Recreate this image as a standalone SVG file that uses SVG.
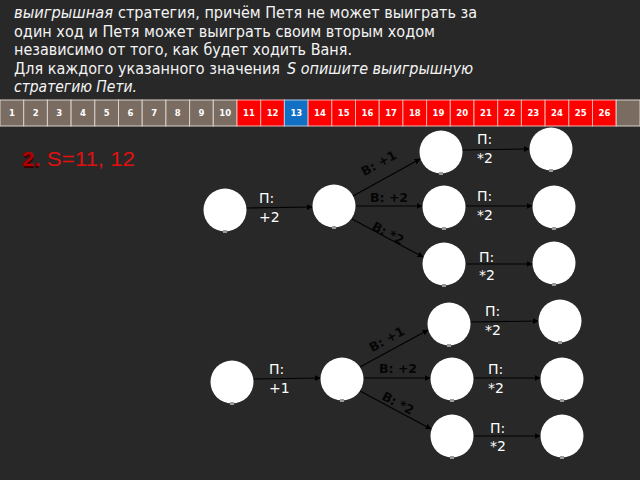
<svg xmlns="http://www.w3.org/2000/svg" width="640" height="480" viewBox="0 0 640 480">
<defs>
<style>
.bg{fill:#282828}
.t{font-family:"DejaVu Sans",sans-serif;font-size:15.8px;fill:#f4f4f4}
.it{font-style:italic}
.cg{fill:#7b6c61;stroke:#d8d2cc;stroke-width:1}
.cr{fill:#ff0000;stroke:#f2b0b0;stroke-width:1}
.cb{fill:#1170c4;stroke:#b0c8e8;stroke-width:1}
.num{font-family:"DejaVu Sans",sans-serif;font-size:8.5px;font-weight:bold;fill:#ffffff;text-anchor:middle}
.node{fill:#ffffff}
.tick{fill:#9a9a9a}
.edge{stroke:#000000;stroke-width:1.1;fill:none;marker-end:url(#ah)}
.p{font-family:"DejaVu Sans",sans-serif;font-size:14px;fill:#ffffff}
.v{font-family:"DejaVu Sans",sans-serif;font-size:12.5px;font-weight:bold;fill:#050505}
</style>
<marker id="ah" viewBox="0 0 10 10" refX="9" refY="5" markerWidth="6" markerHeight="6" markerUnits="userSpaceOnUse" orient="auto">
<path d="M0,0 L10,5 L0,10 z" fill="#000000"/>
</marker>
</defs>
<rect class="bg" x="0" y="0" width="640" height="480"/>

<g id="task-text">
<text class="t it" x="14" y="18" textLength="99" lengthAdjust="spacingAndGlyphs">выигрышная</text>
<text class="t" x="118" y="18" textLength="359" lengthAdjust="spacingAndGlyphs">стратегия, причём Петя не может выиграть за</text>
<text class="t" x="14" y="37" textLength="421" lengthAdjust="spacingAndGlyphs">один ход и Петя может выиграть своим вторым ходом</text>
<text class="t" x="14" y="55" textLength="338" lengthAdjust="spacingAndGlyphs">независимо от того, как будет ходить Ваня.</text>
<text class="t" x="14" y="74" textLength="266" lengthAdjust="spacingAndGlyphs">Для каждого указанного значения</text>
<text class="t it" x="287" y="74" textLength="186" lengthAdjust="spacingAndGlyphs">S опишите выигрышную</text>
<text class="t it" x="14" y="92" textLength="123" lengthAdjust="spacingAndGlyphs">стратегию Пети.</text>
</g>

<g id="number-row">
<rect class="cg" x="0" y="100" width="23.7" height="26"/><text class="num" x="11.9" y="116">1</text>
<rect class="cg" x="23.7" y="100" width="23.7" height="26"/><text class="num" x="35.6" y="116">2</text>
<rect class="cg" x="47.4" y="100" width="23.7" height="26"/><text class="num" x="59.3" y="116">3</text>
<rect class="cg" x="71.1" y="100" width="23.7" height="26"/><text class="num" x="83" y="116">4</text>
<rect class="cg" x="94.8" y="100" width="23.7" height="26"/><text class="num" x="106.7" y="116">5</text>
<rect class="cg" x="118.5" y="100" width="23.7" height="26"/><text class="num" x="130.4" y="116">6</text>
<rect class="cg" x="142.2" y="100" width="23.7" height="26"/><text class="num" x="154.1" y="116">7</text>
<rect class="cg" x="165.9" y="100" width="23.7" height="26"/><text class="num" x="177.8" y="116">8</text>
<rect class="cg" x="189.6" y="100" width="23.7" height="26"/><text class="num" x="201.5" y="116">9</text>
<rect class="cg" x="213.3" y="100" width="23.7" height="26"/><text class="num" x="225.2" y="116">10</text>
<rect class="cr" x="237" y="100" width="23.7" height="26"/><text class="num" x="248.9" y="116">11</text>
<rect class="cr" x="260.7" y="100" width="23.7" height="26"/><text class="num" x="272.6" y="116">12</text>
<rect class="cb" x="284.4" y="100" width="23.7" height="26"/><text class="num" x="296.3" y="116">13</text>
<rect class="cr" x="308.1" y="100" width="23.7" height="26"/><text class="num" x="320" y="116">14</text>
<rect class="cr" x="331.8" y="100" width="23.7" height="26"/><text class="num" x="343.7" y="116">15</text>
<rect class="cr" x="355.5" y="100" width="23.7" height="26"/><text class="num" x="367.4" y="116">16</text>
<rect class="cr" x="379.2" y="100" width="23.7" height="26"/><text class="num" x="391.1" y="116">17</text>
<rect class="cr" x="402.9" y="100" width="23.7" height="26"/><text class="num" x="414.8" y="116">18</text>
<rect class="cr" x="426.6" y="100" width="23.7" height="26"/><text class="num" x="438.5" y="116">19</text>
<rect class="cr" x="450.3" y="100" width="23.7" height="26"/><text class="num" x="462.2" y="116">20</text>
<rect class="cr" x="474" y="100" width="23.7" height="26"/><text class="num" x="485.9" y="116">21</text>
<rect class="cr" x="497.7" y="100" width="23.7" height="26"/><text class="num" x="509.6" y="116">22</text>
<rect class="cr" x="521.4" y="100" width="23.7" height="26"/><text class="num" x="533.3" y="116">23</text>
<rect class="cr" x="545.1" y="100" width="23.7" height="26"/><text class="num" x="557" y="116">24</text>
<rect class="cr" x="568.8" y="100" width="23.7" height="26"/><text class="num" x="580.7" y="116">25</text>
<rect class="cr" x="592.5" y="100" width="23.7" height="26"/><text class="num" x="604.4" y="116">26</text>
<rect class="cg" x="616.2" y="100" width="23.8" height="26"/>
</g>

<g id="title">
<text x="23.5" y="167.5" font-family="'Liberation Sans',Arial,sans-serif" font-size="20" font-weight="bold" fill="#3a0000">2.</text>
<text x="22" y="166" font-family="'Liberation Sans',Arial,sans-serif" font-size="20" textLength="113" lengthAdjust="spacingAndGlyphs"><tspan font-weight="bold" fill="#b00000">2.</tspan><tspan fill="#e01010"> S=11, 12</tspan></text>
</g>

<g id="connectors">
<line class="edge" x1="246" y1="208" x2="312" y2="207"/>
<line class="edge" x1="353" y1="196" x2="420" y2="159"/>
<line class="edge" x1="356" y1="206" x2="422" y2="206"/>
<line class="edge" x1="352" y1="219" x2="423" y2="257"/>
<line class="edge" x1="462" y1="150" x2="529" y2="149"/>
<line class="edge" x1="466" y1="206" x2="532" y2="206"/>
<line class="edge" x1="466" y1="264" x2="532" y2="264"/>
<line class="edge" x1="254" y1="379" x2="320" y2="378"/>
<line class="edge" x1="360" y1="367" x2="428" y2="330"/>
<line class="edge" x1="364" y1="378" x2="430" y2="378"/>
<line class="edge" x1="360" y1="391" x2="431" y2="429"/>
<line class="edge" x1="471" y1="322" x2="538" y2="321"/>
<line class="edge" x1="474" y1="378" x2="540" y2="378"/>
<line class="edge" x1="474" y1="436" x2="540" y2="436"/>

<text class="p" x="259" y="203">П:</text><text class="p" x="259" y="222">+2</text>
<text class="v" transform="translate(381,167) rotate(-29)" text-anchor="middle">В: +1</text>
<text class="v" x="370" y="202">В: +2</text>
<text class="v" transform="translate(386,237) rotate(28)" text-anchor="middle">В: *2</text>
<text class="p" x="477" y="144">П:</text><text class="p" x="477" y="163">*2</text>
<text class="p" x="477" y="201">П:</text><text class="p" x="477" y="220">*2</text>
<text class="p" x="479" y="262">П:</text><text class="p" x="479" y="280">*2</text>

<text class="p" x="269" y="374">П:</text><text class="p" x="269" y="393">+1</text>
<text class="v" transform="translate(389,343) rotate(-29)" text-anchor="middle">В: +1</text>
<text class="v" x="379" y="373">В: +2</text>
<text class="v" transform="translate(396,407) rotate(28)" text-anchor="middle">В: *2</text>
<text class="p" x="485" y="316">П:</text><text class="p" x="485" y="335">*2</text>
<text class="p" x="488" y="374">П:</text><text class="p" x="488" y="393">*2</text>
<text class="p" x="490" y="433">П:</text><text class="p" x="490" y="451">*2</text>
</g>

<g id="n-a1"><circle class="node" cx="225" cy="210" r="21.5"/><rect class="tick" x="223" y="230" width="4" height="3"/></g>
<g id="n-b1"><circle class="node" cx="334" cy="206" r="21.5"/><rect class="tick" x="332" y="226" width="4" height="3"/></g>
<g id="n-c1"><circle class="node" cx="441" cy="152" r="21.5"/><rect class="tick" x="439" y="172" width="4" height="3"/></g>
<g id="n-d1"><circle class="node" cx="551" cy="149" r="21.5"/><rect class="tick" x="549" y="169" width="4" height="3"/></g>
<g id="n-c2"><circle class="node" cx="444" cy="207" r="21.5"/><rect class="tick" x="442" y="227" width="4" height="3"/></g>
<g id="n-d2"><circle class="node" cx="554" cy="207" r="21.5"/><rect class="tick" x="552" y="227" width="4" height="3"/></g>
<g id="n-c3"><circle class="node" cx="444" cy="264" r="21.5"/><rect class="tick" x="442" y="284" width="4" height="3"/></g>
<g id="n-d3"><circle class="node" cx="554" cy="263" r="21.5"/><rect class="tick" x="552" y="283" width="4" height="3"/></g>
<g id="n-c4"><circle class="node" cx="449" cy="324" r="21.5"/><rect class="tick" x="447" y="344" width="4" height="3"/></g>
<g id="n-d4"><circle class="node" cx="560" cy="321" r="21.5"/><rect class="tick" x="558" y="341" width="4" height="3"/></g>
<g id="n-a2"><circle class="node" cx="232" cy="382" r="21.5"/><rect class="tick" x="230" y="402" width="4" height="3"/></g>
<g id="n-b2"><circle class="node" cx="342" cy="379" r="21.5"/><rect class="tick" x="340" y="399" width="4" height="3"/></g>
<g id="n-c5"><circle class="node" cx="452" cy="379" r="21.5"/><rect class="tick" x="450" y="399" width="4" height="3"/></g>
<g id="n-d5"><circle class="node" cx="562" cy="379" r="21.5"/><rect class="tick" x="560" y="399" width="4" height="3"/></g>
<g id="n-c6"><circle class="node" cx="452" cy="436" r="21.5"/><rect class="tick" x="450" y="456" width="4" height="3"/></g>
<g id="n-d6"><circle class="node" cx="562" cy="436" r="21.5"/><rect class="tick" x="560" y="456" width="4" height="3"/></g>
</svg>
